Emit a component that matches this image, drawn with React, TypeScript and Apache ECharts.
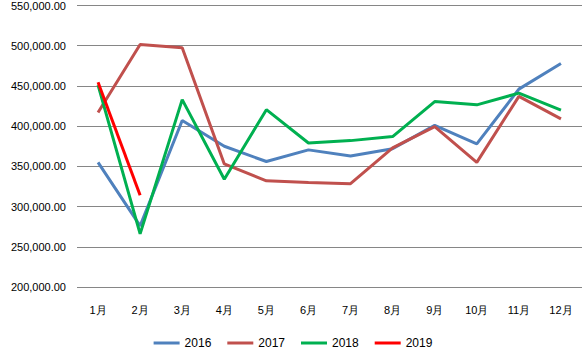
import React, { useEffect, useRef } from "react";
import * as echarts from "echarts";

const months = ["1月", "2月", "3月", "4月", "5月", "6月", "7月", "8月", "9月", "10月", "11月", "12月"];
const s2016 = [355000, 276000, 407000, 375000, 356000, 370500, 363000, 372000, 401000, 378000, 446000, 478000];
const s2017 = [417000, 501500, 497500, 353000, 332000, 330000, 328500, 373000, 399500, 355000, 437000, 409000];
const s2018 = [451000, 266000, 433000, 334000, 420500, 379000, 382000, 387000, 430500, 426500, 441000, 420000];
const s2019 = [454500, 314000];
const seriesNames = ["2016", "2017", "2018", "2019"];
const colors = ["#4F81BD", "#C0504D", "#00B050", "#FF0000"];

export default function App() {
  const ref = useRef<HTMLDivElement>(null);
  useEffect(() => {
    if (!ref.current) return;
    const chart = echarts.init(ref.current, null, { renderer: "svg" });
    const data = [s2016, s2017, s2018, s2019];
    chart.setOption({
      animation: false,
      textStyle: { fontFamily: "Liberation Sans" },
      grid: { left: 77, right: 4, top: 5, bottom: 68, containLabel: false },
      legend: {
        bottom: 1,
        left: "center",
        icon: "rect",
        itemWidth: 26,
        itemHeight: 3,
        itemGap: 16,
        textStyle: { fontSize: 12, color: "#000" },
        data: seriesNames,
      },
      xAxis: {
        type: "category",
        data: months,
        boundaryGap: true,
        axisLine: { show: false },
        axisTick: { show: false },
        axisLabel: { fontSize: 11, color: "#000", margin: 17 },
      },
      yAxis: {
        type: "value",
        min: 200000,
        max: 550000,
        interval: 50000,
        axisLine: { show: false },
        axisTick: { show: false },
        axisLabel: {
          fontSize: 11,
          color: "#000",
          margin: 11,
          formatter: (v: number) =>
            v.toLocaleString("en-US", { minimumFractionDigits: 2, maximumFractionDigits: 2 }),
        },
        splitLine: { lineStyle: { color: "#868686", width: 1 } },
      },
      series: data.map((d, i) => ({
        name: seriesNames[i],
        type: "line",
        data: d,
        symbol: "none",
        color: colors[i],
        lineStyle: { width: 3, color: colors[i] },
      })),
    });
    return () => chart.dispose();
  }, []);
  return <div ref={ref} style={{ width: 586, height: 355, position: "absolute", left: 0, top: 0 }} />;
}
